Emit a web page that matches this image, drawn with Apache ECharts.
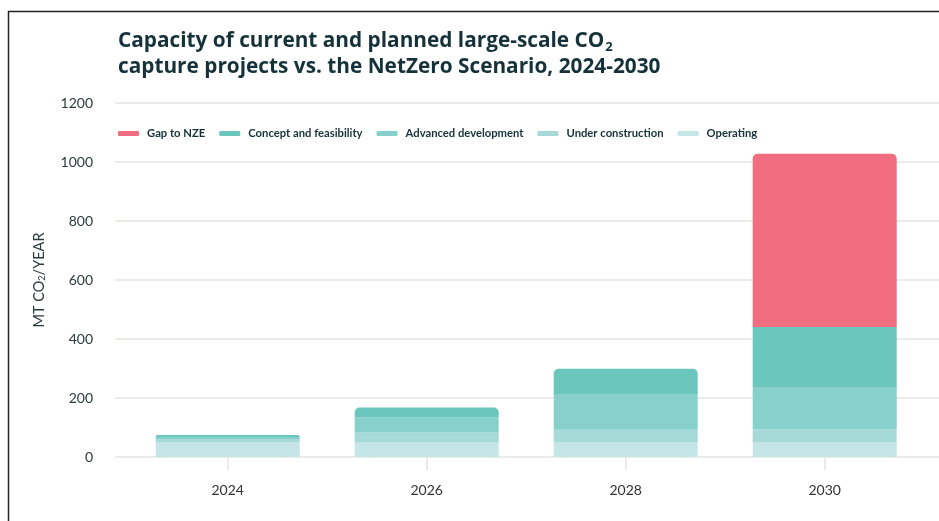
<!DOCTYPE html>
<html>
<head>
<meta charset="utf-8">
<script src="https://cdn.jsdelivr.net/npm/echarts@6/dist/echarts.min.js"></script>
<style>
  html, body { margin: 0; padding: 0; background: #fff; }
  #main { width: 939px; height: 521px; }
</style>
</head>
<body>
<div id="main"></div>
<script>
var years = ['2024', '2026', '2028', '2030'];
var operating = [49, 49, 49, 49];
var underConstruction = [12, 34, 43, 44];
var advancedDev = [7, 51, 119, 142];
var conceptFeas = [7, 34, 88, 206];
var gapToNze = [0, 0, 0, 587];
var yTicks = [0, 200, 400, 600, 800, 1000, 1200];

var names = ['Operating', 'Under construction', 'Advanced development', 'Concept and feasibility', 'Gap to NZE'];
var colors = ['#c5e6e6', '#a5dad9', '#87d0cb', '#6bc6bd', '#f26d80'];
var layers = [operating, underConstruction, advancedDev, conceptFeas, gapToNze];

var myChart = echarts.init(document.getElementById('main'));

// top segment of each bar gets the rounded corners
function topIndex(i) {
    var t = 0;
    for (var k = 0; k < layers.length; k++) {
        if (layers[k][i] > 0) t = k;
    }
    return t;
}

var series = layers.map(function (vals, k) {
    return {
        name: names[k],
        type: 'bar',
        stack: 'total',
        xAxisIndex: 1,
        yAxisIndex: 1,
        barWidth: 144,
        itemStyle: {color: colors[k]},
        data: vals.map(function (v, i) {
            var item = {value: v === 0 ? '-' : v};
            if (topIndex(i) === k) item.itemStyle = {borderRadius: [5, 5, 0, 0]};
            return item;
        })
    };
});

var option = {
    animation: false,
    title: {
        text: '{t|Capacity of current and planned large-scale CO}{s|2}\n{t|capture projects vs. the NetZero Scenario, 2024-2030}',
        left: 113,
        top: 23,
        textStyle: {
            rich: {
                t: {fontFamily: 'Open Sans', fontWeight: 'bold', fontSize: 20.8, color: '#15323a', lineHeight: 26},
                s: {fontFamily: 'Open Sans', fontWeight: 'bold', fontSize: 13, color: '#15323a', lineHeight: 26, verticalAlign: 'bottom', padding: [10, 0, 0, 1]}
            }
        }
    },
    legend: {
        data: ['Gap to NZE', 'Concept and feasibility', 'Advanced development', 'Under construction', 'Operating'],
        left: 113,
        top: 123,
        icon: 'roundRect',
        itemWidth: 21,
        itemHeight: 5,
        itemGap: 14,
        textStyle: {fontFamily: 'Lato', fontWeight: 'bold', fontSize: 11.25, color: '#15323a', padding: [0, 0, 0, 3]}
    },
    graphic: [
        {type: 'line', shape: {x1: 8, y1: 11.5, x2: 939, y2: 11.5}, style: {stroke: '#222', lineWidth: 1.5}},
        {type: 'line', shape: {x1: 8.5, y1: 11, x2: 8.5, y2: 521}, style: {stroke: '#222', lineWidth: 1.5}}
    ],
    grid: [
        {left: 115, right: 0, top: 103, bottom: 64},
        {left: 128.2, right: 14.8, top: 103, bottom: 64}
    ],
    xAxis: [
        {gridIndex: 0, type: 'category', data: years, show: false},
        {
            gridIndex: 1,
            type: 'category',
            data: years,
            axisLine: {show: false},
            axisTick: {show: true, alignWithLabel: true, length: 13, lineStyle: {color: '#e4e4e0', width: 1.5}},
            axisLabel: {margin: 26, fontFamily: 'Lato', fontSize: 14, color: '#333'}
        }
    ],
    yAxis: [
        {
            gridIndex: 0,
            type: 'value',
            min: yTicks[0],
            max: yTicks[yTicks.length - 1],
            interval: 200,
            name: '{t|MT CO}{s|2}{t|/YEAR}',
            nameLocation: 'middle',
            nameGap: 68,
            nameRotate: 90,
            nameTextStyle: {
                rich: {
                    t: {fontFamily: 'Lato', fontSize: 14.5, color: '#2a3b3d'},
                    s: {fontFamily: 'Lato', fontSize: 9, color: '#2a3b3d', padding: [6, 0, 0, 0]}
                }
            },
            axisLine: {show: false},
            axisTick: {show: false},
            axisLabel: {
                margin: 22, fontFamily: 'Lato', fontSize: 14, color: '#2a3b3d',
                formatter: function (v) { return String(v); }
            },
            splitLine: {lineStyle: {color: '#e4e4e0', width: 1.5}}
        },
        {
            gridIndex: 1,
            type: 'value',
            min: yTicks[0],
            max: yTicks[yTicks.length - 1],
            interval: 200,
            show: false,
            splitLine: {show: false}
        }
    ],
    series: series
};
myChart.setOption(option);
</script>
</body>
</html>
